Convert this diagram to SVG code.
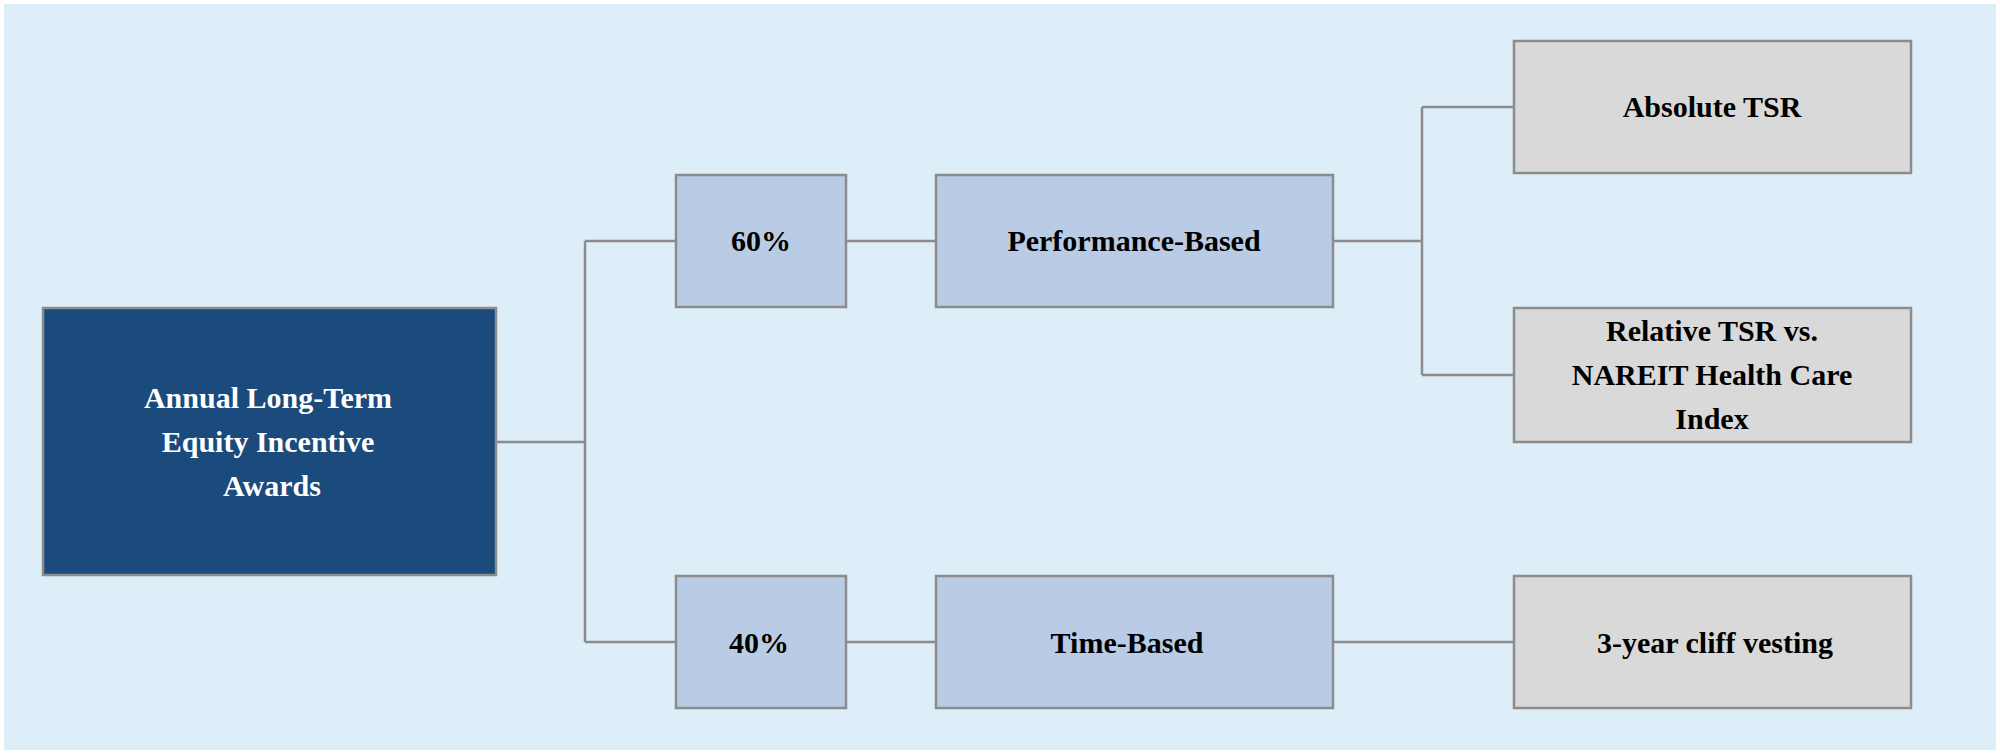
<svg xmlns="http://www.w3.org/2000/svg" width="2000" height="753" viewBox="0 0 2000 753">
<style>
.b{stroke:#8c8c8c;stroke-width:2.5}
.l{fill:#b9cbe5}.g{fill:#d9d9d9}
text{font-family:"Liberation Serif","Times New Roman",serif;font-weight:bold;font-size:30px;text-anchor:middle;fill:#000}
.c{fill:none;stroke:#8c8c8c;stroke-width:2.5}
</style>
<rect width="2000" height="753" fill="#ffffff"/>
<rect x="4" y="4" width="1992" height="746" fill="#ddeef9"/>
<g id="connectors">
<path class="c" d="M496 442H585M585 241V642M585 241H676M585 642H676M846 241H936M846 642H936M1333 241H1422M1422 107V375M1422 107H1514M1422 375H1514M1333 642H1514"/>
</g>
<g id="root"><rect class="b" x="43" y="308" width="453" height="267" fill="#1b4a7c"/>
<text x="268" y="408" fill="#fff" style="fill:#fff">Annual Long-Term</text><text x="268" y="452" style="fill:#fff">Equity Incentive</text><text x="272" y="496" style="fill:#fff">Awards</text></g>
<g id="p60"><rect class="b l" x="676" y="175" width="170" height="132"/><text x="761" y="251">60%</text></g>
<g id="perf"><rect class="b l" x="936" y="175" width="397" height="132"/><text x="1134" y="251">Performance-Based</text></g>
<g id="abs"><rect class="b g" x="1514" y="41" width="397" height="132"/><text x="1712" y="117">Absolute TSR</text></g>
<g id="rel"><rect class="b g" x="1514" y="308" width="397" height="134"/><text x="1712" y="341">Relative TSR vs.</text><text x="1712" y="385">NAREIT Health Care</text><text x="1712" y="429">Index</text></g>
<g id="p40"><rect class="b l" x="676" y="576" width="170" height="132"/><text x="759" y="653">40%</text></g>
<g id="time"><rect class="b l" x="936" y="576" width="397" height="132"/><text x="1127" y="653">Time-Based</text></g>
<g id="cliff"><rect class="b g" x="1514" y="576" width="397" height="132"/><text x="1715" y="653">3-year cliff vesting</text></g>
</svg>
